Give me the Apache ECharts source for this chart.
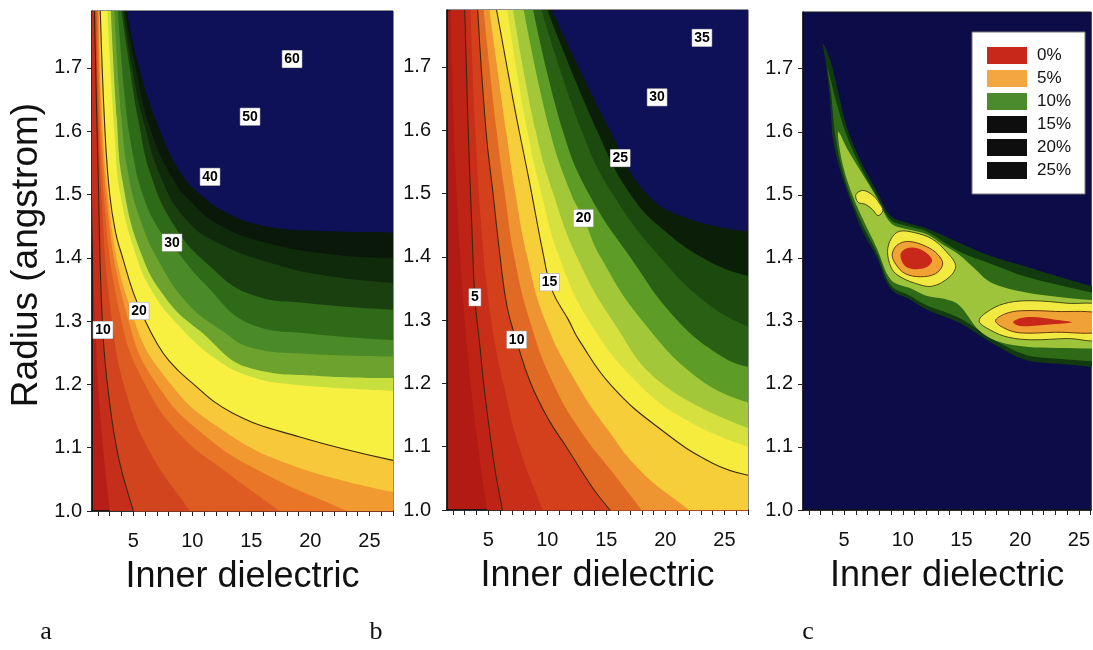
<!DOCTYPE html>
<html>
<head>
<meta charset="utf-8">
<script src="https://cdn.jsdelivr.net/npm/echarts@6/dist/echarts.min.js"></script>
<style>html,body{margin:0;padding:0;background:#fff}#chart{width:1093px;height:650px}</style>
</head>
<body>
<div id="chart"></div>
<script>
// ---------- axes ----------
const xTickValues = [2,3,4,5,6,7,8,9,10,11,12,13,14,15,16,17,18,19,20,21,22,23,24,25,26,27];
const xLabelValues = [5,10,15,20,25];
const yTickValues = [1.0,1.1,1.2,1.3,1.4,1.5,1.6,1.7];

// ---------- panel a: contour level curves [dielectric, radius] (continued below the axis floor) ----------
const aLevels = [6,10,13,16,18,19,20,23,25,27,30,34,38,42,45];
const aColors = ['#c42e1a','#d2441e','#de5c22','#e87626','#f09a30','#f6c83a','#f8f040','#c8e03e','#6ea22e','#4a8a28','#2e6a18','#1a4010','#0e2a0a','#0a180a','#0e1157'];
const aBase = '#b51f18';
const aDrawn = [10,20];
const a06 = [[1.5,1.5],[1.8,1.28],[2.3,1.13],[3.0,1.0],[3.54,0.9],[27,0.9]];
const a10 = [[1.7,1.79],[2.0,1.55],[2.4,1.29],[3.0,1.17],[3.8,1.08],[5.0,1.0],[6.5,0.9],[27,0.9]];
const a13 = [[1.85,1.79],[2.3,1.5],[3.2,1.3],[4.5,1.18],[6.5,1.09],[9.8,1.0],[13.5,0.9],[27,0.9]];
const a16 = [[1.95,1.79],[2.5,1.5],[4.0,1.3],[6,1.2],[9,1.12],[13,1.06],[17.4,1.0],[27,0.87]];
const a18 = [[2.05,1.79],[2.7,1.5],[4.6,1.3],[7,1.2],[11,1.12],[16,1.06],[23.1,1.0],[27,0.967]];
const a19 = [[2.12,1.79],[2.85,1.5],[5.1,1.3],[8.2,1.2],[12,1.135],[18,1.075],[27,1.03]];
const a20 = [[2.2,1.79],[2.6,1.6],[3.0,1.5],[3.5,1.44],[4.1,1.4],[5.0,1.345],[5.9,1.305],[7.0,1.265],[8.0,1.238],[9.5,1.21],[13.4,1.155],[19.1,1.117],[27,1.08]];
const a23 = [[2.8,1.79],[3.4,1.6],[3.9,1.5],[5.3,1.4],[6.5,1.35],[8.5,1.3],[12,1.24],[15,1.212],[18.5,1.2],[27,1.19]];
const a25 = [[3.1,1.79],[3.6,1.62],[4.1,1.52],[5.6,1.41],[7.8,1.335],[10.6,1.285],[15,1.225],[21,1.213],[27,1.21]];
const a27 = [[3.4,1.79],[4.0,1.62],[4.6,1.53],[5.6,1.46],[7.0,1.4],[9.5,1.33],[12.5,1.285],[15,1.258],[20,1.248],[27,1.244]];
const a30 = [[3.7,1.79],[4.3,1.65],[5.0,1.56],[5.8,1.5],[7.0,1.45],[8.3,1.42],[11,1.36],[15,1.295],[20,1.28],[27,1.27]];
const a34 = [[4.0,1.79],[4.7,1.7],[5.4,1.62],[6.5,1.53],[8.5,1.45],[11.3,1.39],[15,1.342],[20,1.328],[27,1.318]];
const a38 = [[4.15,1.79],[4.9,1.7],[5.8,1.62],[7.5,1.52],[9.5,1.46],[12,1.425],[17,1.39],[22,1.37],[27,1.36]];
const a42 = [[4.3,1.79],[5.2,1.7],[6.5,1.6],[8.5,1.52],[9.8,1.49],[12,1.455],[16,1.425],[22,1.405],[27,1.40]];
const a45 = [[4.45,1.79],[5.5,1.7],[7.3,1.6],[9,1.535],[10.7,1.5],[13,1.47],[15.7,1.452],[20,1.443],[27,1.44]];
const aCurves = [a06,a10,a13,a16,a18,a19,a20,a23,a25,a27,a30,a34,a38,a42,a45];
const aLabelPos = [[2.43,1.286],[5.48,1.316],[8.28,1.424],[11.5,1.528],[14.89,1.623],[18.45,1.714]];
const aLabelText = ['10','20','30','40','50','60'];

// ---------- panel b ----------
const bLevels = [3.5,5,7,10,12,13.5,15,16.5,18,20,22,24,26,27.5];
const bColors = ['#bf2316','#c92e18','#d5401c','#e06a24','#ee9430','#f6ce3a','#f6ec3e','#d6e03e','#a2c83a','#5e9c28','#2a6014','#1c4a0e','#0a1e08','#0e1157'];
const bBase = '#b21a14';
const bDrawn = [5,10,15];
const b035 = [[1.8,1.79],[2.2,1.55],[2.8,1.35],[3.5,1.2],[4.2,1.09],[4.9,1.0],[5.68,0.9],[27,0.9]];
const b05 = [[3.0,1.79],[3.3,1.6],[3.6,1.45],[3.86,1.336],[4.3,1.257],[4.6,1.2],[5.1,1.126],[5.6,1.06],[6.2,1.0],[7.2,0.9],[27,0.9]];
const b07 = [[3.5,1.79],[3.9,1.6],[4.4,1.45],[4.9,1.35],[5.6,1.26],[6.4,1.19],[7.6,1.1],[9.6,1.0],[11.6,0.9],[27,0.9]];
const b10 = [[4.1,1.79],[4.8,1.6],[5.4,1.5],[6.0,1.4],[6.6,1.32],[7.4,1.267],[8.6,1.2],[10.2,1.14],[11.6,1.1],[13.8,1.036],[15.3,1.0],[19.5,0.9],[27,0.9]];
const b12 = [[4.6,1.79],[5.7,1.6],[6.4,1.5],[7.2,1.4],[8.5,1.3],[10.5,1.2],[13,1.12],[15.5,1.06],[18,1.0],[22.2,0.9],[27,0.9]];
const b135 = [[5.1,1.79],[6.5,1.6],[7.3,1.5],[8.3,1.4],[9.8,1.3],[12.5,1.2],[15,1.13],[18,1.06],[22,1.0],[27,0.925]];
const b15 = [[5.7,1.79],[7.1,1.648],[7.6,1.6],[8.5,1.517],[9.7,1.4],[10.4,1.347],[11.8,1.3],[12.7,1.268],[15.5,1.195],[19.7,1.126],[24,1.074],[27,1.055]];
const b165 = [[6.6,1.79],[8.3,1.6],[9.5,1.5],[11,1.4],[13.5,1.3],[17.7,1.2],[22,1.14],[27,1.1]];
const b18 = [[7.1,1.79],[9.0,1.6],[10.5,1.5],[12.5,1.4],[15.5,1.3],[19.7,1.2],[27,1.13]];
const b20 = [[8.0,1.79],[10.2,1.6],[12.0,1.5],[13.06,1.461],[14.5,1.4],[18,1.3],[23,1.205],[27,1.17]];
const b22 = [[8.8,1.79],[11.3,1.6],[13.5,1.5],[17,1.4],[21,1.3],[25,1.24],[27,1.226]];
const b24 = [[9.5,1.79],[12.9,1.6],[15.5,1.5],[20,1.39],[24,1.32],[27,1.29]];
const b26 = [[10.0,1.79],[14.2,1.6],[17,1.5],[20,1.44],[24,1.39],[27,1.37]];
const b275 = [[10.4,1.79],[15.3,1.6],[18.4,1.5],[22,1.46],[27,1.44]];
const bCurves = [b035,b05,b07,b10,b12,b135,b15,b165,b18,b20,b22,b24,b26,b275];
const bLabelPos = [[3.86,1.336],[7.4,1.269],[10.19,1.36],[13.06,1.461],[16.18,1.556],[19.3,1.652],[23.1,1.746]];
const bLabelText = ['5','10','15','20','25','30','35'];

// ---------- panel c: region outlines [dielectric, radius] ----------
const cBase = '#0c0c48';
const cDark = [[3.2,1.74],[3.8,1.715],[4.5,1.663],[5.2,1.609],[6.3,1.558],[7.8,1.505],[9.0,1.466],[10.5,1.455],[12,1.447],[14.8,1.424],[17.6,1.402],[20.5,1.386],[23.3,1.37],[26.1,1.355],[27,1.352],[27,1.225],[26.1,1.227],[23.3,1.232],[20.5,1.238],[17.6,1.265],[14.8,1.297],[12,1.318],[10.6,1.334],[9.0,1.35],[7.8,1.40],[6.5,1.445],[5.5,1.493],[4.65,1.54],[4.05,1.588],[3.8,1.652],[3.4,1.715]];
const cGreen = [[3.6,1.70],[4.3,1.65],[5.1,1.6],[6.3,1.548],[7.8,1.497],[9.0,1.46],[10.5,1.45],[12,1.442],[14.8,1.41],[17.6,1.39],[20.5,1.37],[23.3,1.357],[26.1,1.345],[27,1.342],[27,1.235],[26.1,1.236],[23.3,1.24],[20.5,1.246],[17.6,1.272],[14.8,1.305],[12,1.325],[10.6,1.34],[9.0,1.356],[7.8,1.408],[6.5,1.455],[5.5,1.50],[4.7,1.55],[4.2,1.6],[3.9,1.66]];
const cLight = [[4.5,1.60],[5.3,1.572],[6.5,1.535],[7.8,1.495],[9.0,1.455],[10.5,1.445],[12,1.438],[13.5,1.42],[14.8,1.405],[16,1.385],[17.6,1.36],[20.5,1.345],[23.3,1.338],[26.1,1.333],[27,1.332],[27,1.255],[26.1,1.256],[23.3,1.257],[20.5,1.259],[18,1.268],[16.5,1.285],[14.8,1.325],[13.5,1.335],[12,1.34],[10.6,1.352],[9,1.365],[7.8,1.415],[6.5,1.465],[5.5,1.51],[4.8,1.555]];
const cYellow0 = [[6.0,1.50],[6.6,1.507],[7.4,1.5],[8.0,1.487],[8.3,1.475],[7.9,1.467],[7.4,1.477],[6.8,1.485],[6.2,1.488]];
const cYellow1 = [[8.7,1.41],[9.0,1.43],[9.7,1.442],[11,1.44],[12.5,1.43],[13.7,1.41],[14.5,1.388],[14.0,1.37],[12.5,1.355],[11,1.36],[9.6,1.372],[9.0,1.385]];
const cOrange1 = [[9.1,1.405],[9.5,1.42],[10.5,1.426],[12,1.418],[13,1.405],[13.4,1.39],[12.8,1.375],[11.5,1.37],[10.2,1.375],[9.4,1.39]];
const cRed1 = [[9.8,1.405],[10.3,1.415],[11.3,1.415],[12.2,1.405],[12.5,1.395],[12,1.385],[11,1.382],[10.2,1.387]];
const cYellow2 = [[16.5,1.30],[17.5,1.318],[19,1.329],[21,1.332],[24,1.328],[27,1.322],[27,1.272],[24,1.272],[21,1.27],[19,1.274],[17.5,1.285]];
const cOrange2 = [[17.9,1.30],[18.7,1.311],[20,1.316],[23,1.315],[27,1.31],[27,1.284],[23,1.282],[20,1.281],[18.7,1.288]];
const cRed2 = [[19.4,1.298],[20,1.304],[21,1.306],[23,1.302],[24.4,1.298],[23,1.295],[21,1.292],[20,1.292]];
const legendNames = ['0%','5%','10%','15%','20%','25%'];
const legendColors = ['#c8281a','#f4a640','#4c8a2e','#0e0e0e','#0e0e0e','#0e0e0e'];

// ---------- build ----------
const FONT = '"Liberation Sans", Arial, sans-serif';
const xMax = [27, 27, 26.05];
const grids = [
  {left:92, top:11, width:301, height:500},
  {left:447, top:10, width:301, height:500},
  {left:803, top:12, width:291, height:498}
].map((g,i)=>Object.assign(g,{show:true, backgroundColor:[aBase,bBase,cBase][i], borderColor:'#1a1a1a', borderWidth:1}));

function xAxis(gi){
  return {type:'value', gridIndex:gi, min:1.5, max:xMax[gi],
    name:'Inner dielectric', nameLocation:'middle', nameGap:48,
    nameTextStyle:{fontSize:36, color:'#111', fontFamily:FONT},
    axisLine:{show:true, onZero:false, lineStyle:{color:'#111', width:1.5}},
    axisTick:{show:true, length:5, customValues:xTickValues.filter(v=>v<=xMax[gi]), lineStyle:{color:'#222'}},
    axisLabel:{customValues:xLabelValues, fontSize:20, color:'#111', margin:20, fontFamily:FONT},
    splitLine:{show:false}};
}
function yAxis(gi, margin){
  const ax = {type:'value', gridIndex:gi, min:1.0, max:1.79,
    axisLine:{show:true, onZero:false, lineStyle:{color:'#111', width:1.5}},
    axisTick:{show:true, length:5, customValues:yTickValues, lineStyle:{color:'#222'}},
    axisLabel:{customValues:yTickValues, formatter:v=>v.toFixed(1), fontSize:20, color:'#111', margin:margin, fontFamily:FONT},
    splitLine:{show:false}};
  if (gi === 0) {
    Object.assign(ax, {name:'Radius (angstrom)', nameLocation:'middle', nameGap:47,
      nameTextStyle:{fontSize:37, color:'#111', fontFamily:FONT, padding:[0,0,0,12]}});
  }
  return ax;
}

const series = [];
function addCurves(gi, levels, curves, colors, drawn){
  curves.forEach((pts, k)=>{
    const lined = drawn.indexOf(levels[k]) >= 0;
    series.push({type:'line', xAxisIndex:gi, yAxisIndex:gi, data:pts, symbol:'none',
      smooth:0.45, silent:true, animation:false,
      lineStyle: lined ? {color:'#3a2a0c', width:1.1} : {width:0, opacity:0},
      areaStyle:{color:colors[k], opacity:1, origin:'end'}});
  });
}
function addLabels(gi, pos, texts){
  series.push({type:'scatter', xAxisIndex:gi, yAxisIndex:gi, symbol:'rect', symbolSize:1,
    itemStyle:{color:'rgba(0,0,0,0)'}, silent:true, animation:false, z:5,
    data: pos.map((p,i)=>({value:p, name:texts[i]})),
    label:{show:true, position:'inside', formatter:'{b}', backgroundColor:'#fff',
      borderColor:'#999', borderWidth:0.5, padding:[2,2,1,2], opacity:1,
      fontSize:14, fontWeight:'bold', color:'#000', fontFamily:FONT}});
}
function addPoly(pts, fill, stroke){
  series.push({type:'custom', xAxisIndex:2, yAxisIndex:2, clip:true, silent:true, animation:false,
    data: pts,
    renderItem:(params, api)=>{
      if (params.dataIndex !== 0) return;
      return {type:'polygon', shape:{points: pts.map(p=>api.coord(p)), smooth:0.35},
        style:{fill:fill, stroke: stroke || 'none', lineWidth: stroke ? 1 : 0}};
    }});
}

addCurves(0, aLevels, aCurves, aColors, aDrawn);
addLabels(0, aLabelPos, aLabelText);
addCurves(1, bLevels, bCurves, bColors, bDrawn);
addLabels(1, bLabelPos, bLabelText);
addPoly(cDark, '#113a0e');
addPoly(cGreen, '#2f6a16');
addPoly(cLight, '#9ec43c');
addPoly(cYellow0, '#f2ea40', '#4a4a14');
addPoly(cYellow1, '#f2ea40', '#4a4a14');
addPoly(cOrange1, '#f0a234', '#6a3a10');
addPoly(cRed1, '#c8281a');
addPoly(cYellow2, '#f2ea40', '#4a4a14');
addPoly(cOrange2, '#f0a234', '#6a3a10');
addPoly(cRed2, '#c8281a');
legendNames.forEach((n,i)=>{
  series.push({type:'custom', name:n, xAxisIndex:2, yAxisIndex:2, data:[],
    itemStyle:{color:legendColors[i]}, renderItem:()=>{}});
});

const chart = echarts.init(document.getElementById('chart'), null, {renderer:'canvas'});
chart.setOption({
  animation:false,
  backgroundColor:'#fff',
  grid: grids,
  xAxis:[xAxis(0), xAxis(1), xAxis(2)],
  yAxis:[yAxis(0,10), yAxis(1,16), yAxis(2,10)],
  legend:{data:legendNames, orient:'vertical', left:972, top:32, icon:'rect',
    itemWidth:40, itemHeight:17, itemGap:6, selectedMode:false,
    backgroundColor:'#fff', borderColor:'#777', borderWidth:1, padding:[15,14,15,15],
    textStyle:{fontSize:17, color:'#111', fontFamily:FONT, padding:[0,0,0,5]}},
  graphic:[
    {type:'text', x:46, y:632, style:{text:'a', font:'26px "Liberation Serif", serif', fill:'#111', textAlign:'center', textVerticalAlign:'middle'}},
    {type:'text', x:376, y:632, style:{text:'b', font:'26px "Liberation Serif", serif', fill:'#111', textAlign:'center', textVerticalAlign:'middle'}},
    {type:'text', x:808, y:632, style:{text:'c', font:'26px "Liberation Serif", serif', fill:'#111', textAlign:'center', textVerticalAlign:'middle'}}
  ],
  series: series
});
</script>
</body>
</html>
